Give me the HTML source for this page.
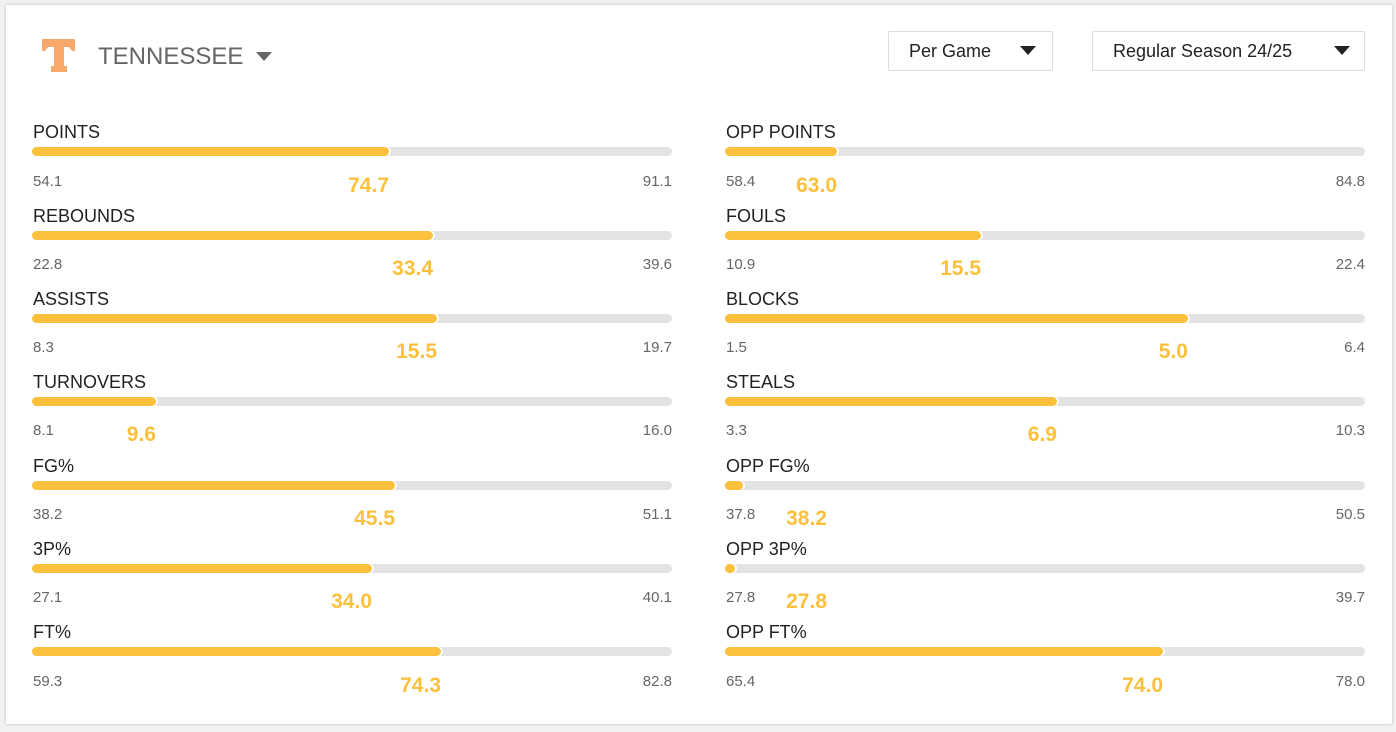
<!DOCTYPE html>
<html><head><meta charset="utf-8"><style>
body{margin:0;width:1396px;height:732px;background:#f2f2f2;font-family:"Liberation Sans",Arial,sans-serif;position:relative;overflow:hidden}
.card{position:absolute;left:6px;top:5px;width:1386px;height:719px;background:#fff;box-shadow:0 0 3px rgba(0,0,0,.25)}
.a{position:absolute;white-space:nowrap}
.lab{font-size:18px;color:#222;line-height:20px}
.trk{position:absolute;height:9px;width:640px;background:#e3e3e3;border-radius:5px}
.fil{position:absolute;left:0;top:0;height:9px;background:#fbc13c;border-radius:5px;box-shadow:2px 0 0 #fff}
.mm{font-size:15px;color:#666;line-height:16px}
.v{font-size:21px;font-weight:bold;color:#fbc13c;line-height:22px}
.dd{position:absolute;background:#fff;border:1px solid #ddd;border-radius:2px;height:38px;font-size:18px;color:#222;line-height:38px}
.tri{position:absolute;width:0;height:0;border-left:8px solid transparent;border-right:8px solid transparent;border-top:9px solid #222}
</style></head><body>
<div class="card"></div>
<div class="a" style="left:42px;top:39px;width:34px;height:33px">
<svg width="34" height="33" viewBox="0 0 34 33"><path d="M0 0H33V12H30L27 8H22V27H25V33H9V27H12V8H6L3 12H0Z" fill="#f6a96a"/></svg></div>
<div class="a" style="left:98px;top:43px;font-size:24px;color:#666">TENNESSEE</div>
<div class="tri" style="left:256px;top:52px;border-top-color:#666"></div>
<div class="dd" style="left:888px;top:31px;width:163px"><span style="margin-left:20px">Per Game</span></div>
<div class="tri" style="left:1020px;top:46px"></div>
<div class="dd" style="left:1092px;top:31px;width:271px"><span style="margin-left:20px">Regular Season 24/25</span></div>
<div class="tri" style="left:1334px;top:46px"></div>

<div class="a lab" style="left:33px;top:122px">POINTS</div>
<div class="trk" style="left:32px;top:147px"><div class="fil" style="width:357px"></div></div>
<div class="a mm" style="left:33px;top:174px">54.1</div><div class="a mm" style="left:612px;top:174px;width:60px;text-align:right">91.1</div>
<div class="a v" style="left:289px;top:175px;width:100px;text-align:right">74.7</div>

<div class="a lab" style="left:33px;top:206px">REBOUNDS</div>
<div class="trk" style="left:32px;top:231px"><div class="fil" style="width:401px"></div></div>
<div class="a mm" style="left:33px;top:257px">22.8</div><div class="a mm" style="left:612px;top:257px;width:60px;text-align:right">39.6</div>
<div class="a v" style="left:333px;top:258px;width:100px;text-align:right">33.4</div>

<div class="a lab" style="left:33px;top:289px">ASSISTS</div>
<div class="trk" style="left:32px;top:314px"><div class="fil" style="width:405px"></div></div>
<div class="a mm" style="left:33px;top:340px">8.3</div><div class="a mm" style="left:612px;top:340px;width:60px;text-align:right">19.7</div>
<div class="a v" style="left:337px;top:341px;width:100px;text-align:right">15.5</div>

<div class="a lab" style="left:33px;top:372px">TURNOVERS</div>
<div class="trk" style="left:32px;top:397px"><div class="fil" style="width:124px"></div></div>
<div class="a mm" style="left:33px;top:423px">8.1</div><div class="a mm" style="left:612px;top:423px;width:60px;text-align:right">16.0</div>
<div class="a v" style="left:56px;top:424px;width:100px;text-align:right">9.6</div>

<div class="a lab" style="left:33px;top:456px">FG%</div>
<div class="trk" style="left:32px;top:481px"><div class="fil" style="width:363px"></div></div>
<div class="a mm" style="left:33px;top:507px">38.2</div><div class="a mm" style="left:612px;top:507px;width:60px;text-align:right">51.1</div>
<div class="a v" style="left:295px;top:508px;width:100px;text-align:right">45.5</div>

<div class="a lab" style="left:33px;top:539px">3P%</div>
<div class="trk" style="left:32px;top:564px"><div class="fil" style="width:340px"></div></div>
<div class="a mm" style="left:33px;top:590px">27.1</div><div class="a mm" style="left:612px;top:590px;width:60px;text-align:right">40.1</div>
<div class="a v" style="left:272px;top:591px;width:100px;text-align:right">34.0</div>

<div class="a lab" style="left:33px;top:622px">FT%</div>
<div class="trk" style="left:32px;top:647px"><div class="fil" style="width:409px"></div></div>
<div class="a mm" style="left:33px;top:674px">59.3</div><div class="a mm" style="left:612px;top:674px;width:60px;text-align:right">82.8</div>
<div class="a v" style="left:341px;top:675px;width:100px;text-align:right">74.3</div>

<div class="a lab" style="left:726px;top:122px">OPP POINTS</div>
<div class="trk" style="left:725px;top:147px"><div class="fil" style="width:112px"></div></div>
<div class="a mm" style="left:726px;top:174px">58.4</div><div class="a mm" style="left:1305px;top:174px;width:60px;text-align:right">84.8</div>
<div class="a v" style="left:737px;top:175px;width:100px;text-align:right">63.0</div>

<div class="a lab" style="left:726px;top:206px">FOULS</div>
<div class="trk" style="left:725px;top:231px"><div class="fil" style="width:256px"></div></div>
<div class="a mm" style="left:726px;top:257px">10.9</div><div class="a mm" style="left:1305px;top:257px;width:60px;text-align:right">22.4</div>
<div class="a v" style="left:881px;top:258px;width:100px;text-align:right">15.5</div>

<div class="a lab" style="left:726px;top:289px">BLOCKS</div>
<div class="trk" style="left:725px;top:314px"><div class="fil" style="width:463px"></div></div>
<div class="a mm" style="left:726px;top:340px">1.5</div><div class="a mm" style="left:1305px;top:340px;width:60px;text-align:right">6.4</div>
<div class="a v" style="left:1088px;top:341px;width:100px;text-align:right">5.0</div>

<div class="a lab" style="left:726px;top:372px">STEALS</div>
<div class="trk" style="left:725px;top:397px"><div class="fil" style="width:332px"></div></div>
<div class="a mm" style="left:726px;top:423px">3.3</div><div class="a mm" style="left:1305px;top:423px;width:60px;text-align:right">10.3</div>
<div class="a v" style="left:957px;top:424px;width:100px;text-align:right">6.9</div>

<div class="a lab" style="left:726px;top:456px">OPP FG%</div>
<div class="trk" style="left:725px;top:481px"><div class="fil" style="width:18px"></div></div>
<div class="a mm" style="left:726px;top:507px">37.8</div><div class="a mm" style="left:1305px;top:507px;width:60px;text-align:right">50.5</div>
<div class="a v" style="left:727px;top:508px;width:100px;text-align:right">38.2</div>

<div class="a lab" style="left:726px;top:539px">OPP 3P%</div>
<div class="trk" style="left:725px;top:564px"><div class="fil" style="width:10px"></div></div>
<div class="a mm" style="left:726px;top:590px">27.8</div><div class="a mm" style="left:1305px;top:590px;width:60px;text-align:right">39.7</div>
<div class="a v" style="left:727px;top:591px;width:100px;text-align:right">27.8</div>

<div class="a lab" style="left:726px;top:622px">OPP FT%</div>
<div class="trk" style="left:725px;top:647px"><div class="fil" style="width:438px"></div></div>
<div class="a mm" style="left:726px;top:674px">65.4</div><div class="a mm" style="left:1305px;top:674px;width:60px;text-align:right">78.0</div>
<div class="a v" style="left:1063px;top:675px;width:100px;text-align:right">74.0</div>
</body></html>
